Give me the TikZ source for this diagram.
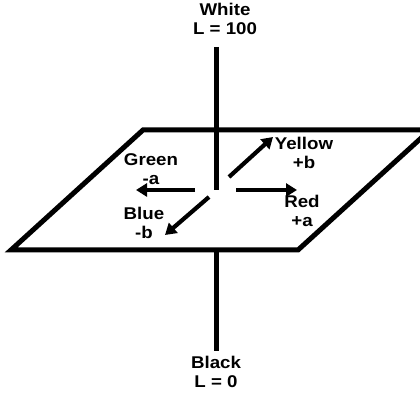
\documentclass[tikz,border=0pt]{standalone}
\usepackage{fontspec}
\setmainfont{Liberation Sans}
\usetikzlibrary{arrows.meta}
\tikzset{
  axis/.style={line width=5pt},
  plane/.style={line width=5pt, line join=miter},
  dirarrow/.style={line width=4.2pt, -{Triangle[length=11pt,width=13pt]}},
  lbl/.style={align=center, inner sep=0pt, font=\bfseries\fontsize{17}{19.5}\selectfont, xscale=1.1}
}
\begin{document}
\begin{tikzpicture}[x=1pt,y=1pt]
\useasboundingbox (0,0) rectangle (420,398);
% plane
\coordinate (p1) at (143,268);
\coordinate (p2) at (430,268);
\coordinate (p3) at (298,148);
\coordinate (p4) at (11,148);
\draw[plane] (p1) -- (p2) -- (p3) -- (p4) -- cycle;
% L axis
\coordinate (ltop) at (216,351);
\coordinate (lmid) at (216,208);
\coordinate (lbot0) at (216,148);
\coordinate (lbot) at (216,47);
\draw[axis] (ltop) -- (lmid);
\draw[axis] (lbot0) -- (lbot);
% arrow ends
\coordinate (gs) at (195,208);
\coordinate (ge) at (136,208);
\coordinate (rs) at (236,208);
\coordinate (re) at (297,208);
\coordinate (ys) at (229,221);
\coordinate (ye) at (273,261);
\coordinate (bs) at (209,201);
\coordinate (be) at (165,163);
\draw[dirarrow] (gs) -- (ge);
\draw[dirarrow] (rs) -- (re);
\draw[dirarrow] (ys) -- (ye);
\draw[dirarrow] (bs) -- (be);
% labels
\node[lbl] (white) at (225,379) {White\\L = 100};
\node[lbl] (black) at (216,26) {Black\\L = 0};
\node[lbl] (green) at (151,229) {Green\\-a};
\node[lbl] (blue) at (144,175) {Blue\\-b};
\node[lbl] (yellow) at (304,245) {Yellow\\+b};
\node[lbl] (red) at (302,187) {Red\\+a};
\end{tikzpicture}
\end{document}
